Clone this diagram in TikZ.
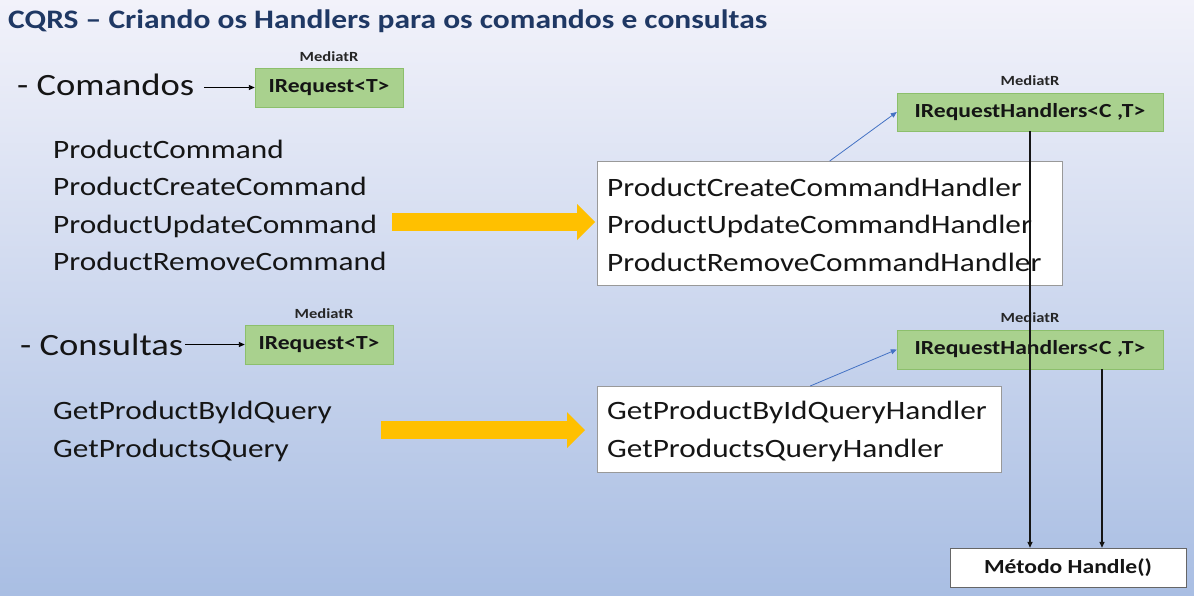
\documentclass[tikz,border=0pt]{standalone}
\usepackage{fontspec}
\setmainfont{Carlito}[FakeStretch=1.18]
\usepackage{tikz}
\usetikzlibrary{arrows.meta, positioning, calc}

\definecolor{titleblue}{HTML}{1F3864}
\definecolor{reqgreen}{HTML}{A9D18E}
\definecolor{reqedge}{HTML}{8CBF6C}
\definecolor{bgtop}{HTML}{F2F2FA}
\definecolor{bgbottom}{HTML}{A9BEE3}
\definecolor{arrowgold}{HTML}{FFC000}
\definecolor{linkblue}{HTML}{4472C4}
\definecolor{inktext}{HTML}{151515}

\begin{document}
\begin{tikzpicture}[%
    x=1pt, y=-1pt,                 % one unit = one pixel, y grows downwards
    >={Triangle[length=6pt,width=5pt]},
    every node/.style={inner sep=0pt, text=inktext},
    heading/.style={anchor=base west, font=\fontsize{31}{35}\selectfont},
    listtext/.style={anchor=base west, font=\fontsize{26.5}{30}\selectfont},
    mediatr/.style={font=\bfseries\fontsize{14}{16}\selectfont, text=black!85},
    reqbox/.style={draw=reqedge, fill=reqgreen, minimum height=39pt,
                   font=\bfseries\fontsize{20}{24}\selectfont},
    handlerbox/.style={draw=black!40, fill=white, anchor=north west},
    fatarrow/.style={arrowgold, line width=18pt,
                     -{Triangle[length=18pt 0 0, width=36pt 0 0, line width=0pt 0 0]}},
    link/.style={linkblue, line width=0.8pt, ->},
    down/.style={draw=inktext, line width=1.3pt, ->}
]

    % ==========================================
    % 0. Background and title
    % ==========================================
    \shade[top color=bgtop, bottom color=bgbottom] (0,0) rectangle (1194,595);
    \useasboundingbox (0,0) rectangle (1194,595);

    \node[anchor=base west, font=\bfseries\fontsize{26.7}{30}\selectfont, text=titleblue]
        (title) at (8,28) {CQRS – Criando os Handlers para os comandos e consultas};

    % ==========================================
    % 1. Commands
    % ==========================================
    \node[heading] (cmdHead) at (17,95) {- Comandos};
    \node[reqbox, minimum width=148pt] (req1) at (329,87.5) {IRequest<T>};
    \node[mediatr, above=6pt of req1] (med1) {MediatR};

    \node[listtext] (cmdBase) at (53,158) {ProductCommand};
    \node[listtext] (cmdCreate) at (53,195.5) {ProductCreateCommand};
    \node[listtext] (cmdUpd) at (53,233) {ProductUpdateCommand};
    \node[listtext] (cmdRem) at (53,270.5) {ProductRemoveCommand};

    \node[handlerbox, minimum width=465pt, minimum height=124pt] (hCmd) at (597,161) {};
    \node[listtext] (hCreate) at (607,196) {ProductCreateCommandHandler};
    \node[listtext] (hUpd) at (607,233) {ProductUpdateCommandHandler};
    \node[listtext] (hRem) at (607,271) {ProductRemoveCommandHandler};

    \node[reqbox, minimum width=266pt, minimum height=38pt] (irh1) at (1030,112) {IRequestHandlers<C ,T>};
    \node[mediatr, above=7pt of irh1] (med3) {MediatR};

    % ==========================================
    % 2. Queries
    % ==========================================
    \node[heading] (qryHead) at (20,355) {- Consultas};
    \node[reqbox, minimum width=148pt] (req2) at (319,344.5) {IRequest<T>};
    \node[mediatr, above=6pt of req2, xshift=5pt] (med2) {MediatR};

    \node[listtext] (qryById) at (53,419) {GetProductByIdQuery};
    \node[listtext] (qryAll) at (53,457) {GetProductsQuery};

    \node[handlerbox, minimum width=404pt, minimum height=86pt] (hQry) at (597,386) {};
    \node[listtext] (hById) at (607,419) {GetProductByIdQueryHandler};
    \node[listtext] (hAll) at (607,457) {GetProductsQueryHandler};

    \node[reqbox, minimum width=266pt] (irh2) at (1030,349.5) {IRequestHandlers<C ,T>};
    \node[mediatr, above=7pt of irh2] (med4) {MediatR};

    % ==========================================
    % 3. Handle method
    % ==========================================
    \node[draw=black!60, fill=white, minimum width=236pt, minimum height=39pt,
          font=\bfseries\fontsize{20}{24}\selectfont] (handle) at (1068,567.5) {Método Handle()};

    % ==========================================
    % 4. Connectors
    % ==========================================
    \draw[->, line width=0.9pt] ([xshift=10pt]cmdHead.east |- req1.west) -- (req1.west);
    \draw[->, line width=0.9pt] ([xshift=2pt]qryHead.east |- req2.west) -- (req2.west);

    % big yellow arrows
    \coordinate (fa1) at ([shift={(15,-11)}]cmdUpd.base east);
    \draw[fatarrow] (fa1) -- ([xshift=-2pt]fa1 -| hCmd.west);
    \coordinate (fa2) at ([shift={(49,11)}]qryById.base east);
    \draw[fatarrow] (fa2) -- ([xshift=-12pt]fa2 -| hQry.west);

    % handlers implement the MediatR interface
    \draw[link] (hCmd.north) -- (irh1.west);
    \draw[link] ([xshift=11pt]hQry.north) -- (irh2.west);

    % both go down to Handle()
    \draw[down] (irh1.south) -- (irh1.south |- handle.north);
    \draw[down] ([xshift=72pt]irh2.south) -- ([xshift=72pt]irh2.south |- handle.north);

\end{tikzpicture}
\end{document}
